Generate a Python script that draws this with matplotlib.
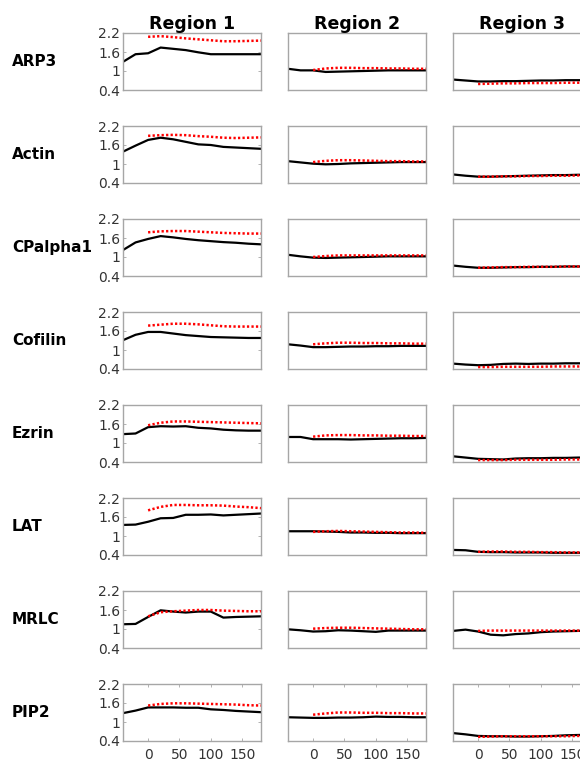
import matplotlib
matplotlib.use("Agg")
import matplotlib.pyplot as plt

proteins = ["ARP3", "Actin", "CPalpha1", "Cofilin", "Ezrin", "LAT", "MRLC", "PIP2"]
regions = ["Region 1", "Region 2", "Region 3"]
t_all = [-40, -20, 0, 20, 40, 60, 80, 100, 120, 140, 160, 180]
t_post = [0, 20, 40, 60, 80, 100, 120, 140, 160, 180]

# black = measured (full time course), red dotted = model (from t=0)
black_r1 = {
    "ARP3":     [1.29, 1.53, 1.56, 1.74, 1.70, 1.66, 1.59, 1.53, 1.53, 1.53, 1.53, 1.53],
    "Actin":    [1.39, 1.58, 1.76, 1.83, 1.78, 1.70, 1.62, 1.60, 1.54, 1.52, 1.50, 1.48],
    "CPalpha1": [1.22, 1.46, 1.57, 1.66, 1.62, 1.57, 1.53, 1.50, 1.47, 1.45, 1.42, 1.40],
    "Cofilin":  [1.31, 1.48, 1.57, 1.57, 1.52, 1.47, 1.44, 1.41, 1.40, 1.39, 1.38, 1.38],
    "Ezrin":    [1.28, 1.30, 1.50, 1.53, 1.52, 1.53, 1.48, 1.46, 1.42, 1.40, 1.39, 1.39],
    "LAT":      [1.35, 1.36, 1.45, 1.56, 1.57, 1.67, 1.67, 1.68, 1.65, 1.67, 1.69, 1.71],
    "MRLC":     [1.15, 1.16, 1.38, 1.59, 1.55, 1.52, 1.55, 1.55, 1.36, 1.38, 1.39, 1.40],
    "PIP2":     [1.28, 1.36, 1.46, 1.46, 1.46, 1.45, 1.45, 1.40, 1.38, 1.35, 1.33, 1.31],
}
red_r1 = {
    "ARP3":     [2.08, 2.10, 2.07, 2.03, 2.00, 1.97, 1.94, 1.94, 1.95, 1.96],
    "Actin":    [1.89, 1.91, 1.92, 1.91, 1.88, 1.86, 1.83, 1.82, 1.83, 1.84],
    "CPalpha1": [1.78, 1.81, 1.82, 1.82, 1.80, 1.78, 1.76, 1.75, 1.74, 1.74],
    "Cofilin":  [1.77, 1.80, 1.83, 1.83, 1.81, 1.78, 1.75, 1.74, 1.74, 1.74],
    "Ezrin":    [1.56, 1.64, 1.68, 1.68, 1.67, 1.66, 1.65, 1.64, 1.63, 1.62],
    "LAT":      [1.81, 1.92, 1.98, 1.98, 1.97, 1.97, 1.96, 1.93, 1.91, 1.88],
    "MRLC":     [1.40, 1.53, 1.56, 1.58, 1.60, 1.60, 1.58, 1.57, 1.56, 1.56],
    "PIP2":     [1.52, 1.57, 1.59, 1.59, 1.58, 1.57, 1.56, 1.55, 1.53, 1.52],
}
black_r2 = {
    "ARP3":     [1.07, 1.02, 1.02, 0.97, 0.98, 0.99, 1.00, 1.01, 1.02, 1.02, 1.02, 1.02],
    "Actin":    [1.09, 1.05, 1.01, 0.99, 1.00, 1.02, 1.03, 1.04, 1.05, 1.06, 1.06, 1.06],
    "CPalpha1": [1.07, 1.02, 0.98, 0.97, 0.98, 0.99, 1.00, 1.01, 1.02, 1.02, 1.02, 1.02],
    "Cofilin":  [1.18, 1.14, 1.09, 1.09, 1.10, 1.11, 1.11, 1.12, 1.12, 1.13, 1.13, 1.13],
    "Ezrin":    [1.19, 1.19, 1.12, 1.12, 1.12, 1.11, 1.12, 1.13, 1.14, 1.15, 1.15, 1.16],
    "LAT":      [1.15, 1.15, 1.15, 1.14, 1.13, 1.11, 1.11, 1.10, 1.10, 1.09, 1.09, 1.09],
    "MRLC":     [0.99, 0.96, 0.92, 0.93, 0.96, 0.95, 0.93, 0.91, 0.95, 0.95, 0.95, 0.95],
    "PIP2":     [1.15, 1.14, 1.13, 1.13, 1.14, 1.14, 1.15, 1.17, 1.16, 1.16, 1.15, 1.15],
}
red_r2 = {
    "ARP3":     [1.03, 1.08, 1.10, 1.10, 1.09, 1.09, 1.08, 1.08, 1.07, 1.07],
    "Actin":    [1.06, 1.10, 1.12, 1.12, 1.11, 1.10, 1.09, 1.09, 1.08, 1.08],
    "CPalpha1": [1.00, 1.03, 1.05, 1.05, 1.05, 1.05, 1.05, 1.05, 1.05, 1.05],
    "Cofilin":  [1.18, 1.21, 1.23, 1.23, 1.22, 1.22, 1.21, 1.21, 1.20, 1.20],
    "Ezrin":    [1.20, 1.24, 1.25, 1.25, 1.24, 1.24, 1.23, 1.23, 1.22, 1.22],
    "LAT":      [1.13, 1.15, 1.16, 1.15, 1.14, 1.13, 1.12, 1.11, 1.11, 1.10],
    "MRLC":     [1.01, 1.03, 1.04, 1.04, 1.03, 1.02, 1.01, 1.00, 0.99, 0.99],
    "PIP2":     [1.23, 1.27, 1.30, 1.30, 1.29, 1.29, 1.28, 1.28, 1.27, 1.27],
}
black_r3 = {
    "ARP3":     [0.73, 0.70, 0.67, 0.67, 0.68, 0.68, 0.69, 0.70, 0.70, 0.71, 0.71, 0.71],
    "Actin":    [0.67, 0.63, 0.60, 0.60, 0.61, 0.62, 0.63, 0.64, 0.65, 0.65, 0.66, 0.66],
    "CPalpha1": [0.73, 0.69, 0.66, 0.66, 0.67, 0.68, 0.68, 0.69, 0.69, 0.70, 0.70, 0.70],
    "Cofilin":  [0.57, 0.54, 0.52, 0.53, 0.56, 0.57, 0.56, 0.57, 0.57, 0.58, 0.58, 0.58],
    "Ezrin":    [0.58, 0.54, 0.50, 0.49, 0.48, 0.51, 0.52, 0.52, 0.53, 0.53, 0.54, 0.54],
    "LAT":      [0.56, 0.55, 0.50, 0.49, 0.49, 0.48, 0.48, 0.48, 0.47, 0.47, 0.47, 0.47],
    "MRLC":     [0.94, 0.98, 0.92, 0.82, 0.80, 0.84, 0.86, 0.90, 0.92, 0.93, 0.94, 0.94],
    "PIP2":     [0.65, 0.61, 0.56, 0.55, 0.55, 0.54, 0.54, 0.55, 0.56, 0.58, 0.59, 0.60],
}
red_r3 = {
    "ARP3":     [0.59, 0.60, 0.61, 0.61, 0.62, 0.62, 0.62, 0.63, 0.63, 0.63],
    "Actin":    [0.60, 0.60, 0.61, 0.61, 0.62, 0.62, 0.63, 0.63, 0.64, 0.64],
    "CPalpha1": [0.66, 0.67, 0.68, 0.68, 0.69, 0.69, 0.69, 0.70, 0.70, 0.70],
    "Cofilin":  [0.46, 0.46, 0.47, 0.47, 0.47, 0.47, 0.48, 0.48, 0.48, 0.48],
    "Ezrin":    [0.46, 0.46, 0.46, 0.47, 0.47, 0.47, 0.47, 0.48, 0.48, 0.48],
    "LAT":      [0.50, 0.51, 0.51, 0.50, 0.50, 0.49, 0.49, 0.48, 0.48, 0.48],
    "MRLC":     [0.94, 0.95, 0.95, 0.95, 0.95, 0.95, 0.95, 0.95, 0.95, 0.95],
    "PIP2":     [0.53, 0.54, 0.55, 0.55, 0.55, 0.55, 0.55, 0.55, 0.56, 0.56],
}
blacks = [black_r1, black_r2, black_r3]
reds = [red_r1, red_r2, red_r3]

yticks = [0.4, 1, 1.6, 2.2]
ytick_labels = ["0.4", "1", "1.6", "2.2"]
xticks = [0, 50, 100, 150]

W, H = 580, 763
fig = plt.figure(figsize=(W / 100, H / 100), dpi=100)
lefts = [123, 288, 453]
aw, ah = 138, 57
grey = "#a6a6a6"

for r, p in enumerate(proteins):
    top = 33 + 93 * r
    for c in range(3):
        ax = fig.add_axes([lefts[c] / W, (H - top - ah) / H, aw / W, ah / H])
        ax.plot(t_all, blacks[c][p], color="black", lw=1.6, solid_joinstyle="round")
        ax.plot(t_post, reds[c][p], color="red", lw=1.8, linestyle=(0, (0.9, 0.9)))
        ax.set_xlim(-40, 180)
        ax.set_ylim(0.4, 2.2)
        for s in ax.spines.values():
            s.set_color(grey)
            s.set_linewidth(1.0)
        ax.tick_params(direction="in", length=2.5, width=0.6, color=grey,
                       labelsize=10, labelcolor="#333333", pad=2,
                       top=True, right=True)
        if c == 0:
            ax.set_yticks(yticks)
            ax.set_yticklabels(ytick_labels)
        else:
            ax.set_yticks([])
        if r == len(proteins) - 1:
            ax.set_xticks(xticks)
            ax.tick_params(axis="x", pad=5)
        else:
            ax.set_xticks([])
        if r == 0:
            ax.set_title(regions[c], fontsize=12.5, fontweight="bold", pad=3)
    fig.text(12 / W, 1 - (top + ah / 2) / H, p, fontsize=11, fontweight="bold",
             ha="left", va="center")

fig.savefig("out.png", dpi=100)
